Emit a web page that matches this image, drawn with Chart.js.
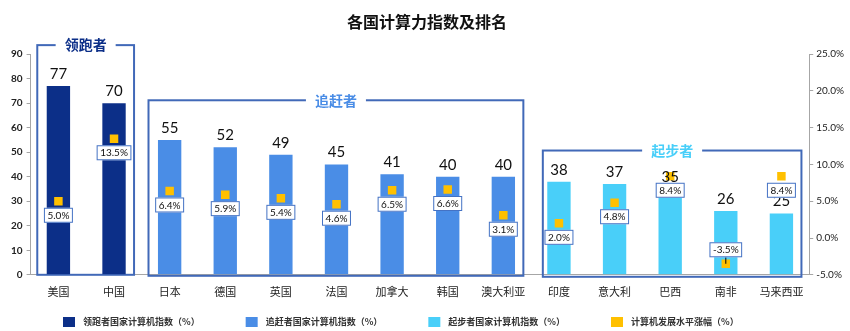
<!DOCTYPE html>
<html>
<head>
<meta charset="utf-8">
<script src="https://cdn.jsdelivr.net/npm/chart.js@4/dist/chart.umd.min.js"></script>
<style>
  html, body { margin: 0; background: #fff; }
  #wrap { width: 850px; height: 331px; }
</style>
</head>
<body>
<div id="wrap"><canvas id="grafico"></canvas></div>
<script>
// categorias y series
const paises = ['美国', '中国', '日本', '德国', '英国', '法国', '加拿大', '韩国', '澳大利亚', '印度', '意大利', '巴西', '南非', '马来西亚']
const lideres = [77, 70, null, null, null, null, null, null, null, null, null, null, null, null]
const seguidores = [null, null, 55, 52, 49, 45, 41, 40, 40, null, null, null, null, null]
const iniciales = [null, null, null, null, null, null, null, null, null, 38, 37, 35, 26, 25]
const crecimiento = [5.0, 13.5, 6.4, 5.9, 5.4, 4.6, 6.5, 6.6, 3.1, 2.0, 4.8, 8.4, -3.5, 8.4]
const ticksIndice = [0, 10, 20, 30, 40, 50, 60, 70, 80, 90]
const ticksCrecimiento = [-5, 0, 5, 10, 15, 20, 25]
const grupos = [
  { titulo: '领跑者', desde: 0, hasta: 1 },
  { titulo: '追赶者', desde: 2, hasta: 8 },
  { titulo: '起步者', desde: 9, hasta: 13 }
]
const leyendas = ['领跑者国家计算机指数（%）', '追赶者国家计算机指数（%）', '起步者国家计算机指数（%）', '计算机发展水平涨幅（%）']

const COLORES = ['#0c2f88', '#4a8de6', '#49cff9', '#ffc000']
const CJK = '"Noto Sans CJK SC", "Noto Sans", sans-serif'
const NUM = 'Lato, "Noto Sans", sans-serif'

// recuadros de cada grupo con su titulo
const recuadros = {
  id: 'recuadros',
  beforeDatasetsDraw(chart) {
    const { ctx, scales: { x, y } } = chart
    const paso = x.getPixelForValue(1) - x.getPixelForValue(0)
    const cfg = [
      { tope: 93.7, izq: 0.38, der: 0.36, abajo: 0 },
      { tope: 71.2, izq: 0.38, der: 0.36, abajo: 1 },
      { tope: 50.7, izq: 0.29, der: 0.36, abajo: 2 }
    ]
    ctx.save()
    grupos.forEach((g, i) => {
      const c = cfg[i]
      const x0 = x.getPixelForValue(g.desde) - paso * c.izq
      const x1 = x.getPixelForValue(g.hasta) + paso * c.der
      const y0 = y.getPixelForValue(c.tope)
      const y1 = y.getPixelForValue(0) + c.abajo
      ctx.strokeStyle = '#4169b8'
      ctx.lineWidth = 2
      ctx.strokeRect(x0, y0, x1 - x0, y1 - y0)
      ctx.font = 'bold 14px ' + CJK
      const w = ctx.measureText(g.titulo).width
      const cx = (x0 + x1) / 2
      ctx.fillStyle = '#fff'
      ctx.fillRect(cx - w / 2 - 9, y0 - 3, w + 18, 6)
      ctx.fillStyle = COLORES[i]
      ctx.textAlign = 'center'
      ctx.textBaseline = 'middle'
      ctx.fillText(g.titulo, cx, y0)
    })
    ctx.restore()
  }
}

// valores sobre las barras y etiquetas de porcentaje
const etiquetas = {
  id: 'etiquetas',
  afterDatasetsDraw(chart) {
    const { ctx } = chart
    ctx.save()
    ctx.textAlign = 'center'
    ctx.textBaseline = 'middle'
    for (let d = 0; d < 3; d++) {
      chart.getDatasetMeta(d).data.forEach((barra, i) => {
        const v = chart.data.datasets[d].data[i]
        if (v == null) return
        ctx.font = '15px ' + NUM
        ctx.fillStyle = '#111'
        ctx.fillText(v, barra.x, barra.y - 12)
      })
    }
    const linea = chart.getDatasetMeta(3)
    linea.data.forEach((p, i) => {
      const v = crecimiento[i]
      const txt = v.toFixed(1) + '%'
      ctx.font = '10px ' + NUM
      const w = ctx.measureText(txt).width + 7
      const h = 15
      const cy = v < 0 ? p.y - 14 : p.y + 14
      if (v < 0) {
        ctx.strokeStyle = '#000'
        ctx.lineWidth = 1
        ctx.beginPath()
        ctx.moveTo(p.x, cy + h / 2)
        ctx.lineTo(p.x, p.y)
        ctx.stroke()
      }
      ctx.fillStyle = '#fff'
      ctx.fillRect(p.x - w / 2, cy - h / 2, w, h)
      ctx.strokeStyle = '#4472c4'
      ctx.lineWidth = 1
      ctx.strokeRect(p.x - w / 2 + 0.5, cy - h / 2 + 0.5, w - 1, h - 1)
      ctx.fillStyle = '#111'
      ctx.fillText(txt, p.x, cy + 0.5)
    })
    ctx.restore()
  }
}

// leyenda inferior
const leyenda = {
  id: 'leyenda',
  afterDraw(chart) {
    const { ctx } = chart
    ctx.save()
    ctx.font = 'bold 9px ' + CJK
    ctx.textBaseline = 'middle'
    ctx.textAlign = 'left'
    let px = 63
    const py = 322
    chart.data.datasets.forEach((ds, i) => {
      ctx.fillStyle = COLORES[i]
      ctx.fillRect(px, py - 5, 12, 10)
      ctx.fillStyle = '#333'
      ctx.fillText(ds.label, px + 20, py)
      px += 20 + ctx.measureText(ds.label).width + 46
    })
    ctx.restore()
  }
}

const barra = (label, data, color) => ({
  type: 'bar',
  label,
  data,
  backgroundColor: color,
  borderWidth: 0,
  grouped: false,
  barPercentage: 0.42,
  categoryPercentage: 1,
  yAxisID: 'y',
  order: 2
})

new Chart(document.getElementById('grafico'), {
  data: {
    labels: paises,
    datasets: [
      barra(leyendas[0], lideres, COLORES[0]),
      barra(leyendas[1], seguidores, COLORES[1]),
      barra(leyendas[2], iniciales, COLORES[2]),
      {
        type: 'line',
        label: leyendas[3],
        data: crecimiento,
        showLine: false,
        yAxisID: 'y1',
        backgroundColor: COLORES[3],
        borderColor: COLORES[3],
        borderWidth: 0,
        pointStyle: 'rect',
        pointRadius: 6,
        pointBorderWidth: 0,
        order: 1
      }
    ]
  },
  options: {
    responsive: true,
    maintainAspectRatio: false,
    animation: false,
    layout: { padding: { left: 7, right: 3, top: 0, bottom: 31 } },
    plugins: {
      legend: { display: false },
      tooltip: { enabled: false },
      title: {
        display: true,
        text: '各国计算力指数及排名',
        color: '#111',
        font: { size: 16, weight: 'bold', family: CJK },
        padding: { top: 12, bottom: 23 }
      }
    },
    scales: {
      x: {
        grid: { display: false },
        border: { display: true, color: '#a6a6a6' },
        ticks: { color: '#222', font: { size: 11, family: CJK }, padding: 2, maxRotation: 0, autoSkip: false }
      },
      y: {
        position: 'left',
        min: 0,
        max: 90,
        afterBuildTicks: s => { s.ticks = ticksIndice.map(v => ({ value: v })) },
        grid: { drawOnChartArea: false, tickLength: 4, color: '#a6a6a6' },
        border: { display: true, color: '#a6a6a6' },
        ticks: { color: '#222', font: { size: 10, weight: 'bold', family: NUM }, padding: 4 }
      },
      y1: {
        position: 'right',
        min: -5,
        max: 25,
        afterBuildTicks: s => { s.ticks = ticksCrecimiento.map(v => ({ value: v })) },
        grid: { drawOnChartArea: false, tickLength: 4, color: '#a6a6a6' },
        border: { display: true, color: '#a6a6a6' },
        ticks: { color: '#222', font: { size: 10, family: NUM }, padding: 3, callback: v => v.toFixed(1) + '%' }
      }
    }
  },
  plugins: [recuadros, etiquetas, leyenda]
})
</script>
</body>
</html>
